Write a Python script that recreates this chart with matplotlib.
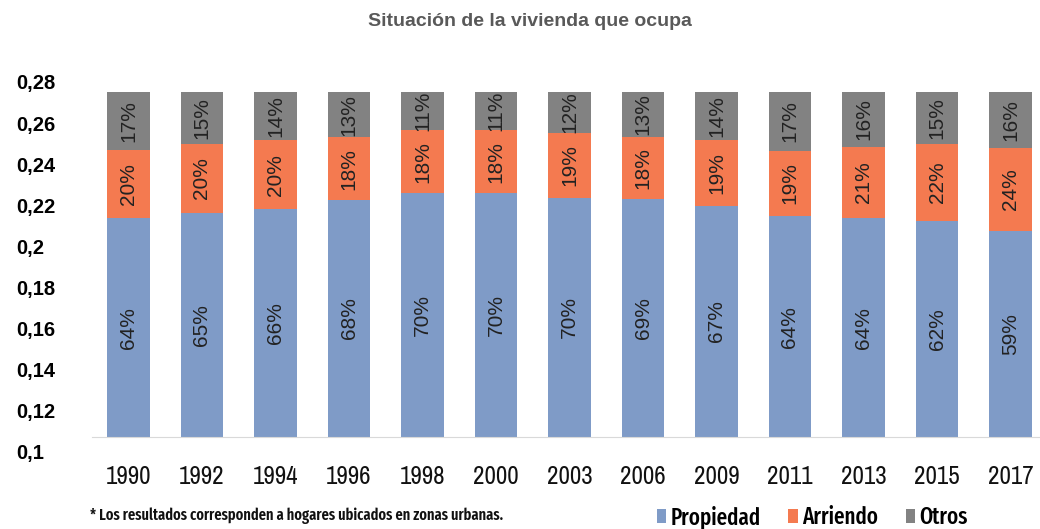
import numpy as np
import matplotlib.pyplot as plt

years = ["1990", "1992", "1994", "1996", "1998", "2000", "2003",
         "2006", "2009", "2011", "2013", "2015", "2017"]
propiedad = [64, 65, 66, 68, 70, 70, 70, 69, 67, 64, 64, 62, 59]
arriendo = [20, 20, 20, 18, 18, 18, 19, 18, 19, 19, 21, 22, 24]
otros = [17, 15, 14, 13, 11, 11, 12, 13, 14, 17, 16, 15, 16]
series = [("Propiedad", propiedad, "#7f9bc7"),
          ("Arriendo", arriendo, "#f47a50"),
          ("Otros", otros, "#828282")]
yticks = [0.10, 0.12, 0.14, 0.16, 0.18, 0.20, 0.22, 0.24, 0.26, 0.28]

narrow = ["Archivo Narrow", "DejaVu Sans"]
cond = ["Fira Sans Extra Condensed", "Archivo Narrow", "DejaVu Sans"]

W, H = 1040, 529
fig = plt.figure(figsize=(W / 100, H / 100), dpi=100)

# bars, stacked to 100%
ax = fig.add_axes([92 / W, (H - 437) / H, (W - 92) / W, (437 - 92) / H])
x = np.arange(len(years))
tot = np.array(propiedad) + np.array(arriendo) + np.array(otros)
bottom = np.zeros(len(years))
handles = []
for name, vals, col in series:
    frac = np.array(vals) / tot
    b = ax.bar(x, frac, 0.585, bottom=bottom, color=col, label=name)
    handles.append(b)
    for xi, yb, h, v in zip(x, bottom, frac, vals):
        ax.text(xi, yb + h / 2, f"{v}%", rotation=90, ha="center", va="center",
                fontsize=15, color="#222222", family="Liberation Sans")
    bottom += frac

ax.set_xlim((92 - 128.5) / 73.5, (W - 128.5) / 73.5)
ax.set_ylim(0, 1)
for s in ["top", "right", "left"]:
    ax.spines[s].set_visible(False)
ax.spines["bottom"].set_color("#d9d9d9")
ax.set_yticks([])
ax.set_xticks(x)
ax.set_xticklabels(years, family=narrow, fontsize=18, color="#111111")
ax.tick_params(axis="x", length=0, pad=20)

# y labels (separate scale, as in the original)
lax = fig.add_axes([16 / W, (H - 452) / H, 0.0001, (452 - 82) / H])
lax.set_ylim(0.10, 0.28)
lax.set_yticks(yticks)
lax.set_yticklabels([f"{t:.2f}".rstrip("0").replace(".", ",") for t in yticks],
                    family="Liberation Sans", fontweight="bold", fontsize=14.5)
lax.yaxis.tick_right()
lax.tick_params(axis="y", length=0, pad=0)
lax.set_xticks([])
for s in lax.spines.values():
    s.set_visible(False)

fig.text(530 / W, 1 - 21 / H, "Situación de la vivienda que ocupa", ha="center",
         va="center", fontsize=14, fontweight="bold", color="#595959",
         family="Liberation Sans")
fig.text(90 / W, 1 - 516 / H,
         "* Los resultados corresponden a hogares ubicados en zonas urbanas.",
         ha="left", va="center", fontsize=11.3, fontweight=600, color="#111111",
         family=cond)

fig.legend(handles=handles, loc="center left", bbox_to_anchor=(657 / W, 1 - 517 / H),
           ncol=3, frameon=False, prop={"family": cond, "size": 16.5, "weight": 500},
           handlelength=0.4, handleheight=0.55, handletextpad=0.2,
           columnspacing=1.2, borderaxespad=0, borderpad=0)

fig.savefig("out.png", dpi=100)
